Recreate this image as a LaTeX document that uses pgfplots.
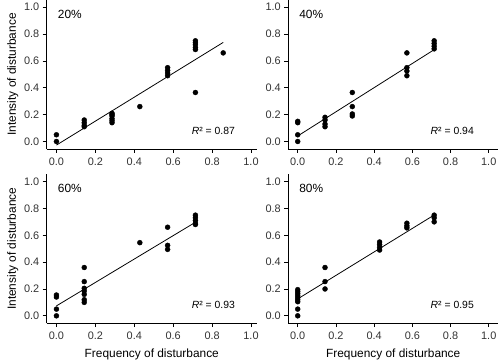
\documentclass[border=0pt]{standalone}
\usepackage{pgfplots}
\pgfplotsset{compat=1.18}
\usepackage{fontspec}
\setmainfont{Liberation Sans}
\begin{document}
\pgfplotsset{
  panel/.style={
    scale only axis, width=211.3bp, height=149.7bp,
    anchor=south west,
    axis lines=left, axis line style={-, line width=0.7pt, black},
    xmin=-0.05, xmax=1.03, ymin=-0.055, ymax=1.054,
    xtick={0,0.2,...,1.0}, ytick={0,0.2,...,1.0},
    tick align=outside, major tick length=4bp,
    tick style={black, line width=0.7pt},
    xticklabel style={/pgf/number format/fixed,/pgf/number format/fixed zerofill,/pgf/number format/precision=1, font=\fontsize{11}{13}\selectfont, text=black!80, yshift=-1.5bp},
    yticklabel style={/pgf/number format/fixed,/pgf/number format/fixed zerofill,/pgf/number format/precision=1, font=\fontsize{11}{13}\selectfont, text=black!80},
    /pgf/number format/assume math mode=true,
    label style={font=\fontsize{12}{14}\selectfont},
    xlabel style={yshift=-2bp},
    ylabel style={yshift=-1bp},
    clip=false,
  },
  pts/.style={only marks, mark=*, mark size=2.5bp, black},
  fit/.style={no marks, black, line width=0.8pt},
}
\begin{tikzpicture}
\useasboundingbox (0,0) rectangle (500bp,362bp);
% 20%
\begin{axis}[panel, at={(44.2bp,212.3bp)}, ylabel={Intensity of disturbance}]
\addplot[pts] coordinates {
(0,0.05) (0,0)
(0.1429,0.16) (0.1429,0.14) (0.1429,0.12) (0.1429,0.11)
(0.2857,0.21) (0.2857,0.20) (0.2857,0.19) (0.2857,0.17) (0.2857,0.155) (0.2857,0.14)
(0.4286,0.26)
(0.5714,0.55) (0.5714,0.53) (0.5714,0.51) (0.5714,0.49)
(0.7143,0.75) (0.7143,0.735) (0.7143,0.72) (0.7143,0.70) (0.7143,0.685) (0.7143,0.365)
(0.8571,0.66)
};
\addplot[fit] coordinates {(0,-0.027) (0.8571,0.738)};
\node[anchor=west, font=\fontsize{12}{14}\selectfont] at (axis cs:-0.01,0.95) {20\%};
\node[anchor=east, font=\fontsize{10.5}{12}\selectfont] at (axis cs:0.935,0.08) {\textit{R}² = 0.87};
\end{axis}
% 40%
\begin{axis}[panel, at={(287bp,212.3bp)}, xmax=1.05]
\addplot[pts] coordinates {
(0,0.15) (0,0.14) (0,0.05) (0,0)
(0.1429,0.18) (0.1429,0.16) (0.1429,0.13) (0.1429,0.11)
(0.2857,0.365) (0.2857,0.26) (0.2857,0.205) (0.2857,0.19)
(0.5714,0.66) (0.5714,0.55) (0.5714,0.525) (0.5714,0.49)
(0.7143,0.75) (0.7143,0.73) (0.7143,0.71) (0.7143,0.69)
};
\addplot[fit] coordinates {(0,0.041) (0.7143,0.684)};
\node[anchor=west, font=\fontsize{12}{14}\selectfont] at (axis cs:-0.01,0.95) {40\%};
\node[anchor=east, font=\fontsize{10.5}{12}\selectfont] at (axis cs:0.94,0.08) {\textit{R}² = 0.94};
\end{axis}
% 60%
\begin{axis}[panel, at={(44.2bp,37bp)}, ylabel={Intensity of disturbance}, xlabel={Frequency of disturbance}]
\addplot[pts] coordinates {
(0,0.155) (0,0.14) (0,0.05) (0,0)
(0.1429,0.36) (0.1429,0.255) (0.1429,0.205) (0.1429,0.185) (0.1429,0.16) (0.1429,0.12) (0.1429,0.10)
(0.4286,0.545)
(0.5714,0.66) (0.5714,0.525) (0.5714,0.495)
(0.7143,0.75) (0.7143,0.73) (0.7143,0.71) (0.7143,0.69) (0.7143,0.68)
};
\addplot[fit] coordinates {(0,0.074) (0.7143,0.697)};
\node[anchor=west, font=\fontsize{12}{14}\selectfont] at (axis cs:-0.01,0.95) {60\%};
\node[anchor=east, font=\fontsize{10.5}{12}\selectfont] at (axis cs:0.935,0.08) {\textit{R}² = 0.93};
\end{axis}
% 80%
\begin{axis}[panel, at={(287bp,37bp)}, xmax=1.05, xlabel={Frequency of disturbance}]
\addplot[pts] coordinates {
(0,0.195) (0,0.18) (0,0.165) (0,0.15) (0,0.135) (0,0.12) (0,0.105) (0,0.05) (0,0)
(0.1429,0.36) (0.1429,0.255) (0.1429,0.2)
(0.4286,0.55) (0.4286,0.53) (0.4286,0.51) (0.4286,0.49)
(0.5714,0.69) (0.5714,0.67) (0.5714,0.655)
(0.7143,0.75) (0.7143,0.73) (0.7143,0.70)
};
\addplot[fit] coordinates {(0,0.126) (0.7143,0.751)};
\node[anchor=west, font=\fontsize{12}{14}\selectfont] at (axis cs:-0.01,0.95) {80\%};
\node[anchor=east, font=\fontsize{10.5}{12}\selectfont] at (axis cs:0.94,0.08) {\textit{R}² = 0.95};
\end{axis}
\end{tikzpicture}
\end{document}
